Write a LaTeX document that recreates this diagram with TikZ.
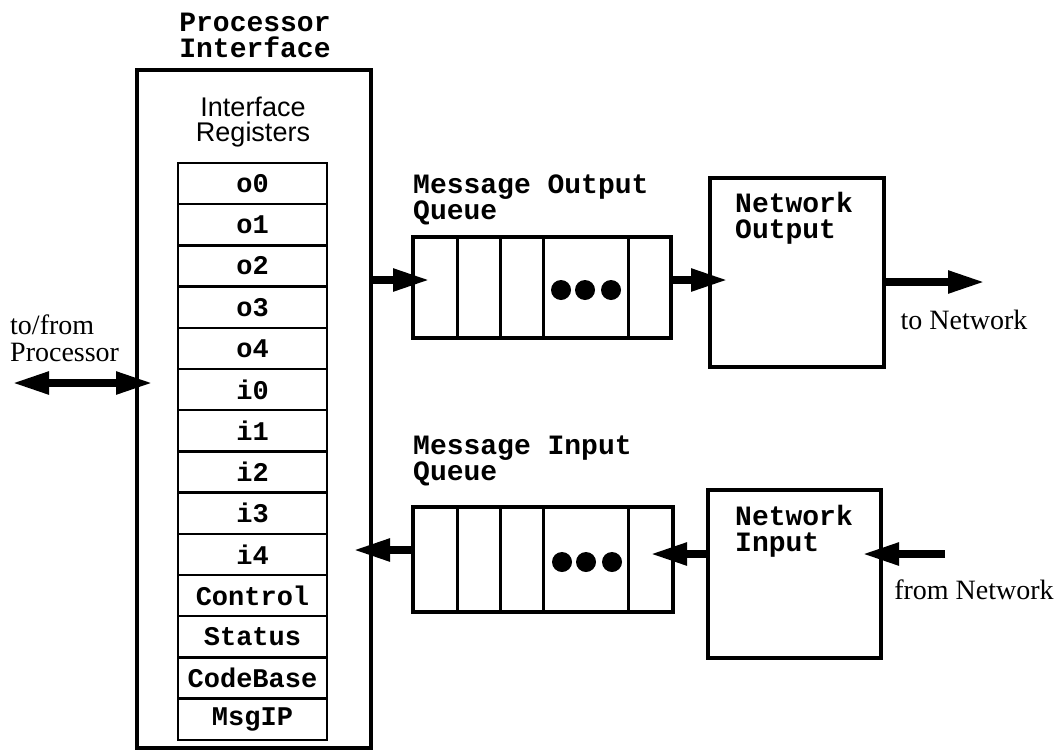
\documentclass[tikz,border=0pt]{standalone}
\usepackage{fontspec}
\setmainfont{Liberation Serif}
\newfontfamily\monof{Liberation Mono}
\newfontfamily\sansf{Liberation Sans}
\usetikzlibrary{arrows.meta}
\begin{document}
\begin{tikzpicture}[x=1pt,y=-1pt,
  box/.style={draw, line width=4pt, inner sep=0pt, fill=white},
  reg/.style={draw, line width=2.5pt, minimum width=149pt, minimum height=41.2pt, inner sep=0pt,
    font=\fontsize{27pt}{26pt}\selectfont\monof\bfseries},
  monolab/.style={font=\fontsize{28pt}{26pt}\selectfont\monof\bfseries, inner sep=0pt},
  sanslab/.style={font=\fontsize{27pt}{25pt}\selectfont\sansf, inner sep=0pt},
  seriflab/.style={font=\fontsize{28pt}{27pt}\selectfont, inner sep=0pt},
  divider/.style={line width=3pt},
  dot/.style={fill=black},
  bigarrow/.style={line width=8pt, -{Triangle[length=37pt,width=21pt]}},
  dblarrow/.style={line width=8pt, {Triangle[length=37pt,width=21pt]}-{Triangle[length=37pt,width=21pt]}}
]
\useasboundingbox (0,0) rectangle (1062,755);

% Processor interface
\node[monolab, align=center] (ptitle) at (255,35) {Processor\\Interface};
\node[box, minimum width=234pt, minimum height=678pt] (proc) at (254,409) {};
\node[sanslab, align=center] (iregs) at (253,122) {Interface\\Registers};
\foreach \lab [count=\i from 0] in {o0,o1,o2,o3,o4,i0,i1,i2,i3,i4,Control,Status,CodeBase,MsgIP}
  \node[reg] (r\i) at (252.5,{163+41.2*(\i+0.5)}) {\lab};

% to/from Processor
\node[seriflab, align=left, anchor=west] (tfp) at (10,338) {to/from\\Processor};

% Output queue
\node[monolab, align=left, anchor=west] (qoutlab) at (413,200) {Message Output\\Queue};
\node[box, minimum width=258pt, minimum height=101pt] (qout) at (542,287.5) {};
\foreach \x in {457,500,543,628}
  \draw[divider] (\x,0 |- qout.north) -- (\x,0 |- qout.south);
\foreach \x in {561,585,611}
  \fill[dot] (\x,290) circle (10pt);

% Input queue
\node[monolab, align=left, anchor=west] (qinlab) at (413,461) {Message Input\\Queue};
\node[box, minimum width=260pt, minimum height=105pt] (qin) at (543,559.5) {};
\foreach \x in {457,500,543,628}
  \draw[divider] (\x,0 |- qin.north) -- (\x,0 |- qin.south);
\foreach \x in {562,586,612}
  \fill[dot] (\x,562) circle (10pt);

% Network output / input
\node[box, minimum width=174pt, minimum height=189pt] (nout) at (797,272.5) {};
\node[monolab, align=left, anchor=west] (noutlab) at (735,218) {Network\\Output};
\node[box, minimum width=173pt, minimum height=168pt] (nin) at (794.5,574) {};
\node[monolab, align=left, anchor=west] (ninlab) at (735,531) {Network\\Input};

\node[seriflab] (tonet) at (964,320) {to Network};
\node[seriflab] (fromnet) at (974,590) {from Network};

% Connectors
\coordinate (d1) at (12,383);
\coordinate (d2) at (153,383);
\draw[dblarrow] (d1) -- (d2);

\coordinate (t1) at (430,280);
\draw[bigarrow] (proc.east |- t1) -- (t1);
\coordinate (t2) at (728,280);
\draw[bigarrow] (qout.east |- t2) -- (t2);
\coordinate (t3) at (985,282);
\draw[bigarrow] (nout.east |- t3) -- (t3);

\coordinate (s4) at (945,554);
\coordinate (t4) at (862,554);
\draw[bigarrow] (s4) -- (t4);
\coordinate (t5) at (650,554);
\draw[bigarrow] (nin.west |- t5) -- (t5);
\coordinate (t6) at (353,550);
\draw[bigarrow] (qin.west |- t6) -- (t6);
\end{tikzpicture}
\end{document}
